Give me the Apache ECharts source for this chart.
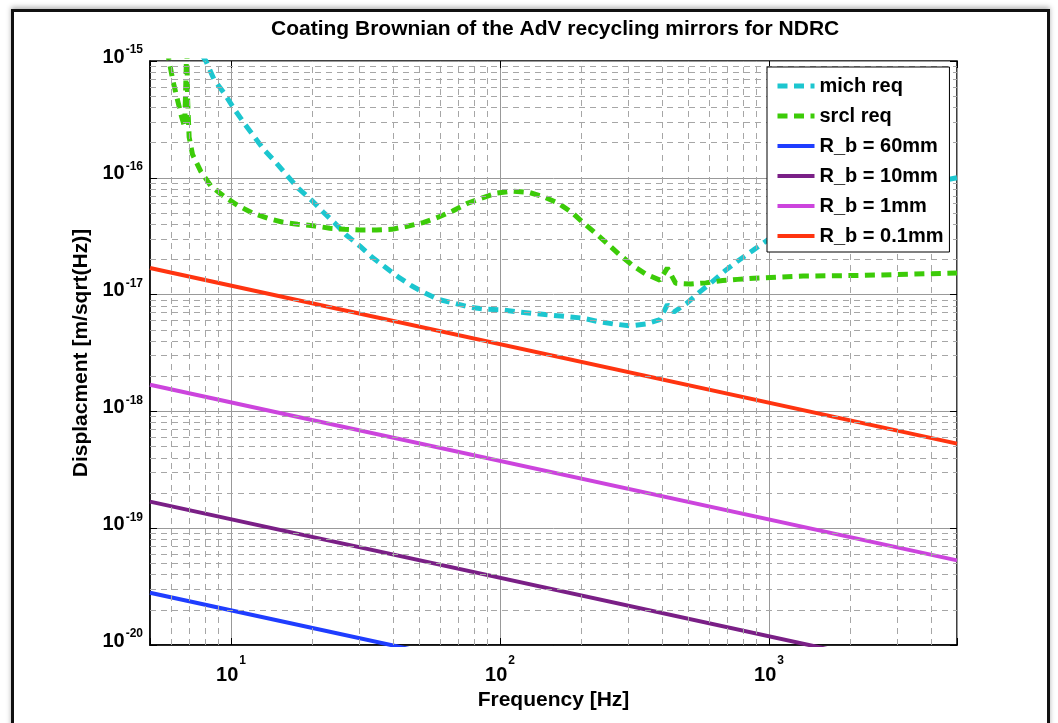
<!DOCTYPE html>
<html>
<head>
<meta charset="utf-8">
<script src="https://cdn.jsdelivr.net/npm/echarts@6/dist/echarts.min.js"></script>
<style>
  html, body { margin: 0; padding: 0; background: #fff; }
  #frame { position: absolute; left: 11px; top: 9px; width: 1033px; height: 740px; border: 3px solid #111; border-bottom: none; box-shadow: 0 -2px 5px rgba(0,0,0,0.3); }
  #chart { position: absolute; left: 0; top: 0; width: 1058px; height: 723px; }
</style>
</head>
<body>
<div id="frame"></div>
<div id="chart"></div>
<script>
// mich req (cyan, dashed)
const michFreq = [7.8, 8.07, 8.66, 9.44, 10.3, 11.2, 12.2, 13.3, 14.7, 16.2,
  17.8, 19.9, 22.0, 24.3, 26.8, 30.1, 33.3, 37.3, 41.8, 46.9,
  52.6, 58.9, 68.0, 77.3, 88.0, 102, 117, 133, 152, 175,
  202, 230, 265, 304, 348, 393, 419, 443, 494, 549,
  616, 691, 775, 869, 1030, 1320, 2020, 3100, 5000]
const michDisp = [1.12e-15, 1.0e-15, 6.9e-16, 5.3e-16, 3.86e-16, 2.93e-16, 2.25e-16, 1.73e-16, 1.35e-16, 1.04e-16,
  8.1e-17, 6.45e-17, 5.1e-17, 4.1e-17, 3.24e-17, 2.61e-17, 2.11e-17, 1.73e-17, 1.42e-17, 1.19e-17,
  1.03e-17, 9.1e-18, 8.4e-18, 7.8e-18, 7.5e-18, 7.4e-18, 7.1e-18, 6.9e-18, 6.7e-18, 6.5e-18,
  6.3e-18, 5.9e-18, 5.6e-18, 5.4e-18, 5.6e-18, 6.1e-18, 8.2e-18, 7.1e-18, 8.4e-18, 1.04e-17,
  1.29e-17, 1.62e-17, 1.98e-17, 2.38e-17, 3.13e-17, 4.35e-17, 6.45e-17, 8.2e-17, 1.0e-16]

// srcl req (green, dashed)
const srclFreq = [5.79, 5.89, 6.09, 6.32, 6.55, 6.73, 6.85, 6.90, 6.99, 7.19,
  7.73, 8.42, 9.44, 10.6, 12.0, 13.7, 15.6, 17.7, 20.5, 23.3,
  26.5, 30.3, 34.7, 39.6, 45.6, 51.8, 58.9, 66.7, 75.2, 85.5,
  97.3, 111, 128, 145, 165, 185, 202, 223, 250, 276,
  310, 348, 393, 419, 450, 512, 582, 672, 764, 876,
  1340, 2230, 5000]
const srclDisp = [1.24e-15, 1.0e-15, 6.7e-16, 4.7e-16, 3.34e-16, 2.72e-16, 1.37e-15, 4.6e-16, 2.23e-16, 1.59e-16,
  1.13e-16, 8.5e-17, 6.9e-17, 5.8e-17, 5.0e-17, 4.5e-17, 4.16e-17, 4.0e-17, 3.87e-17, 3.7e-17,
  3.62e-17, 3.57e-17, 3.57e-17, 3.62e-17, 3.87e-17, 4.13e-17, 4.6e-17, 5.2e-17, 6.0e-17, 6.7e-17,
  7.4e-17, 7.7e-17, 7.5e-17, 6.9e-17, 6.05e-17, 5.05e-17, 4.2e-17, 3.46e-17, 2.75e-17, 2.23e-17,
  1.79e-17, 1.50e-17, 1.33e-17, 1.69e-17, 1.25e-17, 1.23e-17, 1.26e-17, 1.32e-17, 1.35e-17, 1.38e-17,
  1.44e-17, 1.46e-17, 1.53e-17]

// coating brownian for each beam radius (straight on log-log)
const rbFreq = [5, 5000]
const rb60 = [2.8e-20, 8.9e-22]
const rb10 = [1.69e-19, 5.3e-21]
const rb1 = [1.69e-18, 5.3e-20]
const rb01 = [1.69e-17, 5.3e-19]

const xRange = [5, 5000]
const yRange = [1e-20, 1e-15]

const FONT = 'Liberation Sans'

function zip (xs, ys) {
  return xs.map((x, i) => [x, ys[i]])
}

// minor grid positions (2..9 in each decade)
const minorX = []
for (let e = 0; e <= 3; e++) {
  for (let k = 2; k <= 9; k++) {
    const v = k * Math.pow(10, e)
    if (v > xRange[0] && v < xRange[1]) minorX.push(v)
  }
}
const minorY = []
for (let e = -20; e <= -16; e++) {
  for (let k = 2; k <= 9; k++) minorY.push(k * Math.pow(10, e))
}

function powLabel (value) {
  const e = Math.log10(value)
  const r = Math.round(e)
  if (Math.abs(e - r) > 1e-6) return ''
  return '{b|10}{s|' + r + '}'
}

const xRich = {
  b: { fontSize: 20, fontWeight: 'bold', fontFamily: FONT, color: '#000' },
  s: { fontSize: 12, fontWeight: 'bold', fontFamily: FONT, color: '#000', padding: [0, 0, 28, 1] }
}
const yRich = {
  b: { fontSize: 20, fontWeight: 'bold', fontFamily: FONT, color: '#000', padding: [0, 0, 8, 0] },
  s: { fontSize: 12, fontWeight: 'bold', fontFamily: FONT, color: '#000', padding: [0, 0, 22, 1] }
}

function solid (name, data, color) {
  return {
    name: name,
    type: 'line',
    data: data,
    showSymbol: false,
    symbol: 'none',
    z: 3,
    lineStyle: { color: color, width: 4 },
    itemStyle: { color: color, opacity: 0 }
  }
}

function dashed (name, data, color) {
  return {
    name: name,
    type: 'line',
    data: data,
    showSymbol: false,
    symbol: 'none',
    z: 3,
    lineStyle: { color: color, width: 5, type: [10, 6.5], cap: 'butt' },
    itemStyle: { color: color, opacity: 0 }
  }
}

const gridLines = minorX.map(v => [{ coord: [v, yRange[0]] }, { coord: [v, yRange[1]] }])
  .concat(minorY.map(v => [{ coord: [xRange[0], v] }, { coord: [xRange[1], v] }]))

// plain box axes on top / right, ticks only
const boxAxis = {
  type: 'log',
  logBase: 10,
  axisLine: { show: false },
  axisTick: { inside: true, length: 7, lineStyle: { color: '#000' } },
  axisLabel: { show: false },
  splitLine: { show: false }
}

const Options = {
  animation: false,
  backgroundColor: 'transparent',
  title: {
    text: 'Coating Brownian of the AdV recycling mirrors for NDRC',
    left: 271,
    top: 19,
    padding: 0,
    textStyle: { fontSize: 21, fontWeight: 'bold', fontFamily: FONT, color: '#000' }
  },
  grid: {
    left: 150,
    top: 61,
    right: 101,
    bottom: 78,
    show: true,
    borderColor: '#000',
    borderWidth: 1.5,
    backgroundColor: '#fff'
  },
  legend: {
    data: [
      { name: 'mich req', lineStyle: { width: 5 } },
      { name: 'srcl req', lineStyle: { width: 5 } },
      'R_b = 60mm', 'R_b = 10mm', 'R_b = 1mm', 'R_b = 0.1mm'
    ],
    orient: 'vertical',
    left: 767,
    top: 67,
    z: 10,
    padding: [9, 6, 6, 8],
    itemGap: 10,
    itemWidth: 37,
    itemHeight: 20,
    backgroundColor: '#fff',
    borderColor: '#000',
    borderWidth: 1,
    lineStyle: { width: 4 },
    itemStyle: { opacity: 0 },
    textStyle: { fontSize: 20, fontWeight: 'bold', fontFamily: FONT, color: '#000', lineHeight: 20 }
  },
  xAxis: [
    {
      type: 'log',
      logBase: 10,
      min: xRange[0],
      max: xRange[1],
      name: 'Frequency [Hz]',
      nameLocation: 'middle',
      nameGap: 40,
      nameTextStyle: { fontSize: 21, fontWeight: 'bold', fontFamily: FONT, color: '#000' },
      axisLine: { onZero: false, lineStyle: { color: '#000', width: 1.5 } },
      axisTick: { inside: true, length: 7, lineStyle: { color: '#000' } },
      axisLabel: { formatter: powLabel, margin: 10, rich: xRich },
      splitLine: { show: true, lineStyle: { color: '#999', width: 1 } }
    },
    Object.assign({ position: 'top', min: xRange[0], max: xRange[1] }, boxAxis)
  ],
  yAxis: [
    {
      type: 'log',
      logBase: 10,
      min: yRange[0],
      max: yRange[1],
      name: 'Displacment [m/sqrt(Hz)]',
      nameLocation: 'middle',
      nameGap: 56,
      nameTextStyle: { fontSize: 21, fontWeight: 'bold', fontFamily: FONT, color: '#000' },
      axisLine: { lineStyle: { color: '#000', width: 1.5 } },
      axisTick: { inside: true, length: 7, lineStyle: { color: '#000' } },
      axisLabel: { formatter: powLabel, margin: 7, rich: yRich },
      splitLine: { show: true, lineStyle: { color: '#999', width: 1 } }
    },
    Object.assign({ position: 'right', min: yRange[0], max: yRange[1] }, boxAxis)
  ],
  series: [
    {
      name: 'minor grid',
      type: 'line',
      data: [],
      z: 1,
      silent: true,
      markLine: {
        silent: true,
        symbol: 'none',
        label: { show: false },
        animation: false,
        lineStyle: { color: '#a6a6a6', width: 1, type: [6, 5] },
        data: gridLines
      }
    },
    dashed('mich req', zip(michFreq, michDisp), '#1cc6cf'),
    dashed('srcl req', zip(srclFreq, srclDisp), '#3ccb08'),
    solid('R_b = 60mm', zip(rbFreq, rb60), '#1f3dff'),
    solid('R_b = 10mm', zip(rbFreq, rb10), '#7a1f86'),
    solid('R_b = 1mm', zip(rbFreq, rb1), '#cc44dd'),
    solid('R_b = 0.1mm', zip(rbFreq, rb01), '#ff3410')
  ]
}

const chart = echarts.init(document.getElementById('chart'))
chart.setOption(Options)
</script>
</body>
</html>
